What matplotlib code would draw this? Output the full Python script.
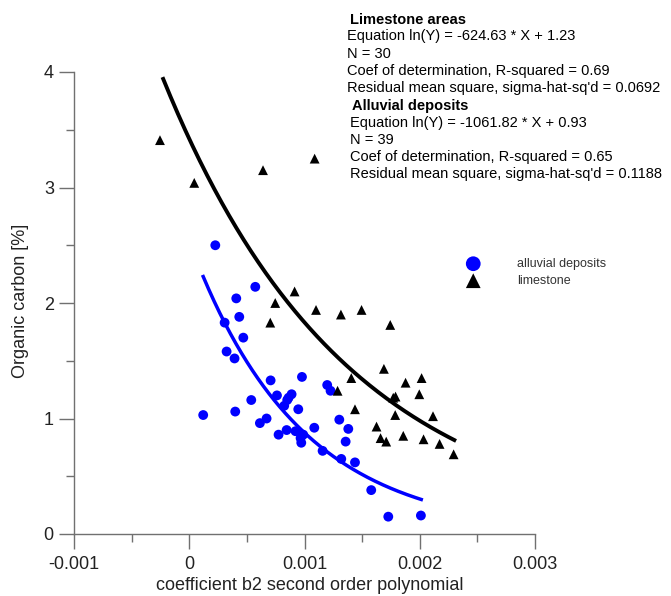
import numpy as np
import matplotlib
matplotlib.use("Agg")
import matplotlib.pyplot as plt
from matplotlib.ticker import MultipleLocator

plt.rcParams['font.family'] = ['Liberation Sans', 'DejaVu Sans']

# Alluvial deposits (blue circles)
alluvial_x = [0.000226, 0.000573, 0.000408, 0.000434, 0.000307, 0.000469, 0.000324, 0.000393,
              0.000978, 0.000706, 0.001197, 0.001226, 0.000761, 0.000888, 0.000850, 0.000538,
              0.000824, 0.000121, 0.000399, 0.000946, 0.000671, 0.000613, 0.001302, 0.001380,
              0.001085, 0.000845, 0.000922, 0.000775, 0.000989, 0.000966, 0.000972, 0.001357,
              0.001157, 0.001319, 0.001438, 0.001579, 0.001727, 0.002010, 0.000862]
alluvial_y = [2.50, 2.14, 2.04, 1.88, 1.83, 1.70, 1.58, 1.52,
              1.36, 1.33, 1.29, 1.24, 1.20, 1.21, 1.16, 1.16,
              1.11, 1.03, 1.06, 1.08, 1.00, 0.96, 0.99, 0.91,
              0.92, 0.90, 0.89, 0.86, 0.86, 0.83, 0.79, 0.80,
              0.72, 0.65, 0.62, 0.38, 0.15, 0.16, 1.18]

# Limestone (black triangles)
limestone_x = [-0.000254, 0.0000434, 0.000640, 0.001088, 0.000914, 0.000746, 0.001100, 0.000703,
               0.001316, 0.001495, 0.001744, 0.001689, 0.001406, 0.001877, 0.002016, 0.001287,
               0.001770, 0.001790, 0.001996, 0.001438, 0.001787, 0.002115, 0.001625, 0.001660,
               0.001709, 0.001857, 0.002033, 0.002172, 0.002294]
limestone_y = [3.41, 3.04, 3.15, 3.25, 2.10, 2.00, 1.94, 1.83,
               1.90, 1.94, 1.81, 1.43, 1.35, 1.31, 1.35, 1.24,
               1.18, 1.19, 1.21, 1.08, 1.03, 1.02, 0.93, 0.83,
               0.80, 0.85, 0.82, 0.78, 0.69]

# Fitted exponential models ln(Y) = a*X + b
lime_a, lime_b = -624.63, 1.23
lime_range = (-0.000226, 0.0023)
allu_a, allu_b = -1061.82, 0.93
allu_range = (0.000121, 0.002013)

xticks = [-0.001, 0, 0.001, 0.002, 0.003]
xticklabels = ["-0.001", "0", "0.001", "0.002", "0.003"]
yticks = [0, 1, 2, 3, 4]

info_lines = [
    ("Limestone areas", True, 350),
    ("Equation ln(Y) = -624.63 * X + 1.23", False, 347),
    ("N = 30", False, 347),
    ("Coef of determination, R-squared = 0.69", False, 347),
    ("Residual mean square, sigma-hat-sq'd = 0.0692", False, 347),
    ("Alluvial deposits", True, 352),
    ("Equation ln(Y) = -1061.82 * X + 0.93", False, 350),
    ("N = 39", False, 350),
    ("Coef of determination, R-squared = 0.65", False, 350),
    ("Residual mean square, sigma-hat-sq'd = 0.1188", False, 350),
]
info_y = [20, 36, 54, 71, 88, 106, 123, 140, 157, 174]

W, H = 671, 596
fig = plt.figure(figsize=(W / 100, H / 100), dpi=100)
ax = fig.add_axes([74 / W, 1 - 534 / H, (535 - 74) / W, (534 - 72) / H])

# curves
xl = np.linspace(lime_range[0], lime_range[1], 200)
ax.plot(xl, np.exp(lime_a * xl + lime_b), color='black', lw=2.8, zorder=2)
xa = np.linspace(allu_range[0], allu_range[1], 200)
ax.plot(xa, np.exp(allu_a * xa + allu_b), color='#0000ff', lw=2.5, zorder=2)

ax.scatter(alluvial_x, alluvial_y, s=50, marker='o', color='#0000ff', edgecolors='none',
           zorder=3, label='alluvial deposits')
ax.scatter(limestone_x, limestone_y, s=50, marker='^', color='black', edgecolors='none',
           zorder=3, label='limestone')

ax.set_xlim(-0.001, 0.003)
ax.set_ylim(0, 4)
ax.set_xticks(xticks)
ax.set_xticklabels(xticklabels)
ax.set_yticks(yticks)
ax.xaxis.set_minor_locator(MultipleLocator(0.0005))
ax.yaxis.set_minor_locator(MultipleLocator(0.5))

for s in ['top', 'right']:
    ax.spines[s].set_visible(False)
for s in ['left', 'bottom']:
    ax.spines[s].set_color('#707070')
    ax.spines[s].set_linewidth(1.0)
ax.tick_params(which='major', direction='out', length=10.5, width=1.0, color='#707070',
               labelsize=13, labelcolor='#222222', pad=5)
ax.tick_params(which='minor', direction='out', length=5.5, width=1.0, color='#707070')
ax.tick_params(axis='y', which='major', pad=4)

fig.text(310 / W, 1 - 585 / H, "coefficient b2 second order polynomial", ha='center', va='center',
         fontsize=13, color='#222222')
fig.text(21 / W, 1 - 301 / H, "Organic carbon [%]", ha='center', va='center', rotation=90,
         fontsize=13, color='#222222')

for (txt, bold, x), y in zip(info_lines, info_y):
    fig.text(x / W, 1 - y / H, txt, ha='left', va='center', fontsize=10.5,
             fontweight='bold' if bold else 'normal', color='black')

leg = ax.legend(loc='upper left', bbox_to_anchor=(467 / W, 1 - 258 / H),
                bbox_transform=fig.transFigure, frameon=False, fontsize=9,
                markerscale=1.5, handlelength=1.0, handletextpad=3.0, labelspacing=0.4,
                borderpad=0, borderaxespad=0)
for t in leg.get_texts():
    t.set_color('#333333')

fig.savefig('out.png', dpi=100)
